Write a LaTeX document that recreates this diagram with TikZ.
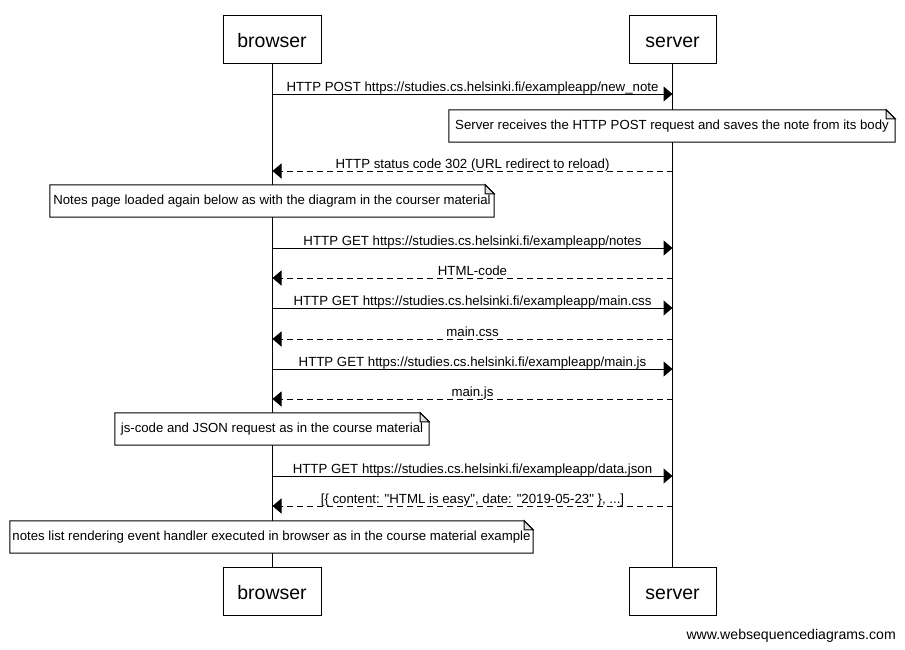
\documentclass[tikz,border=0pt]{standalone}
\usepackage{fontspec}
\setmainfont{Liberation Sans}
\usetikzlibrary{arrows.meta}

% draws the folded-corner outline of a note around node #1
\newcommand\notefold[1]{%
  \draw[noteline, fill=white] (#1.north west) -- ([xshift=-9pt]#1.north east)
    -- ([yshift=-9pt]#1.north east) -- (#1.south east) -- (#1.south west) -- cycle;
  \draw[noteline, fill=black!12] ([xshift=-9pt]#1.north east) -- ([xshift=-9pt,yshift=-9pt]#1.north east)
    -- ([yshift=-9pt]#1.north east) -- cycle;
  \node[notetext] at (#1.center) {\csname notetxt#1\endcsname};}

\tikzset{
  actor/.style={draw, line width=1pt, fill=white, minimum height=48pt,
    font=\fontsize{19.5}{22}\selectfont, inner sep=0pt,
    text height=17pt, text depth=0pt},
  lifeline/.style={line width=1pt},
  req/.style={line width=1pt, -{Triangle[length=9pt,width=15pt]}},
  resp/.style={line width=1pt, dash pattern=on 6pt off 4pt,
    -{Triangle[length=9pt,width=15pt]}},
  lbl/.style={anchor=base, yshift=3pt, inner xsep=1pt, inner ysep=0pt,
    fill=white, font=\fontsize{13.25}{15}\selectfont},
  notebox/.style={minimum height=32pt, inner xsep=7pt, inner ysep=0pt},
  noteline/.style={line width=1pt, line join=miter},
  notetext/.style={font=\fontsize{13.2}{15}\selectfont, inner sep=0pt},
}

\begin{document}
\begin{tikzpicture}[x=1pt, y=-1pt, line join=miter]
\useasboundingbox[fill=white] (0,0) rectangle (905,649);

% participants, top and bottom
\node[actor, minimum width=98pt] (btop) at (272,39) {browser};
\node[actor, minimum width=87pt] (stop) at (672.5,39) {server};
\node[actor, minimum width=98pt] (bbot) at (272,591) {browser};
\node[actor, minimum width=87pt] (sbot) at (672.5,591) {server};

% lifelines
\draw[lifeline] (btop.south) -- (bbot.north);
\draw[lifeline] (stop.south) -- (sbot.north);

% message end points on the lifelines
\foreach \n/\y in {1/94,2/171,3/248,4/278,5/308,6/339,7/369,8/399,9/476,10/506}{
  \coordinate (b\n) at (272.5,\y);
  \coordinate (s\n) at (672.5,\y);
}

% messages
\draw[req]  (b1) -- node[lbl] {HTTP POST https://studies.cs.helsinki.fi/exampleapp/new\_note} (s1);
\draw[resp] (s2) -- node[lbl] {HTTP status code 302 (URL redirect to reload)} (b2);
\draw[req]  (b3) -- node[lbl] {HTTP GET https://studies.cs.helsinki.fi/exampleapp/notes} (s3);
\draw[resp] (s4) -- node[lbl] {HTML-code} (b4);
\draw[req]  (b5) -- node[lbl] {HTTP GET https://studies.cs.helsinki.fi/exampleapp/main.css} (s5);
\draw[resp] (s6) -- node[lbl] {main.css} (b6);
\draw[req]  (b7) -- node[lbl] {HTTP GET https://studies.cs.helsinki.fi/exampleapp/main.js} (s7);
\draw[resp] (s8) -- node[lbl] {main.js} (b8);
\draw[req]  (b9) -- node[lbl] {HTTP GET https://studies.cs.helsinki.fi/exampleapp/data.json} (s9);
\draw[resp] (s10) -- node[lbl] {[\{ content: \textquotedbl HTML is easy\textquotedbl, date: \textquotedbl 2019-05-23\textquotedbl\ \}, ...]} (b10);

% notes
\def\notetxtnA{Server receives the HTTP POST request and saves the note from its body}
\def\notetxtnB{Notes page loaded again below as with the diagram in the courser material}
\def\notetxtnC{js-code and JSON request as in the course material}
\def\notetxtnD{notes list rendering event handler executed in browser as in the course material example}

\node[notebox, minimum width=446pt] (nA) at (672,126) {};
\node[notebox, minimum width=444pt] (nB) at (272,201) {};
\node[notebox, minimum width=314pt] (nC) at (272,429) {};
\node[notebox, minimum width=523pt] (nD) at (271.5,537) {};
\notefold{nA}
\notefold{nB}
\notefold{nC}
\notefold{nD}

% footer
\node[anchor=base east, font=\fontsize{14.1}{16}\selectfont, inner sep=0pt]
  (wm) at (896,639) {www.websequencediagrams.com};
\end{tikzpicture}
\end{document}
